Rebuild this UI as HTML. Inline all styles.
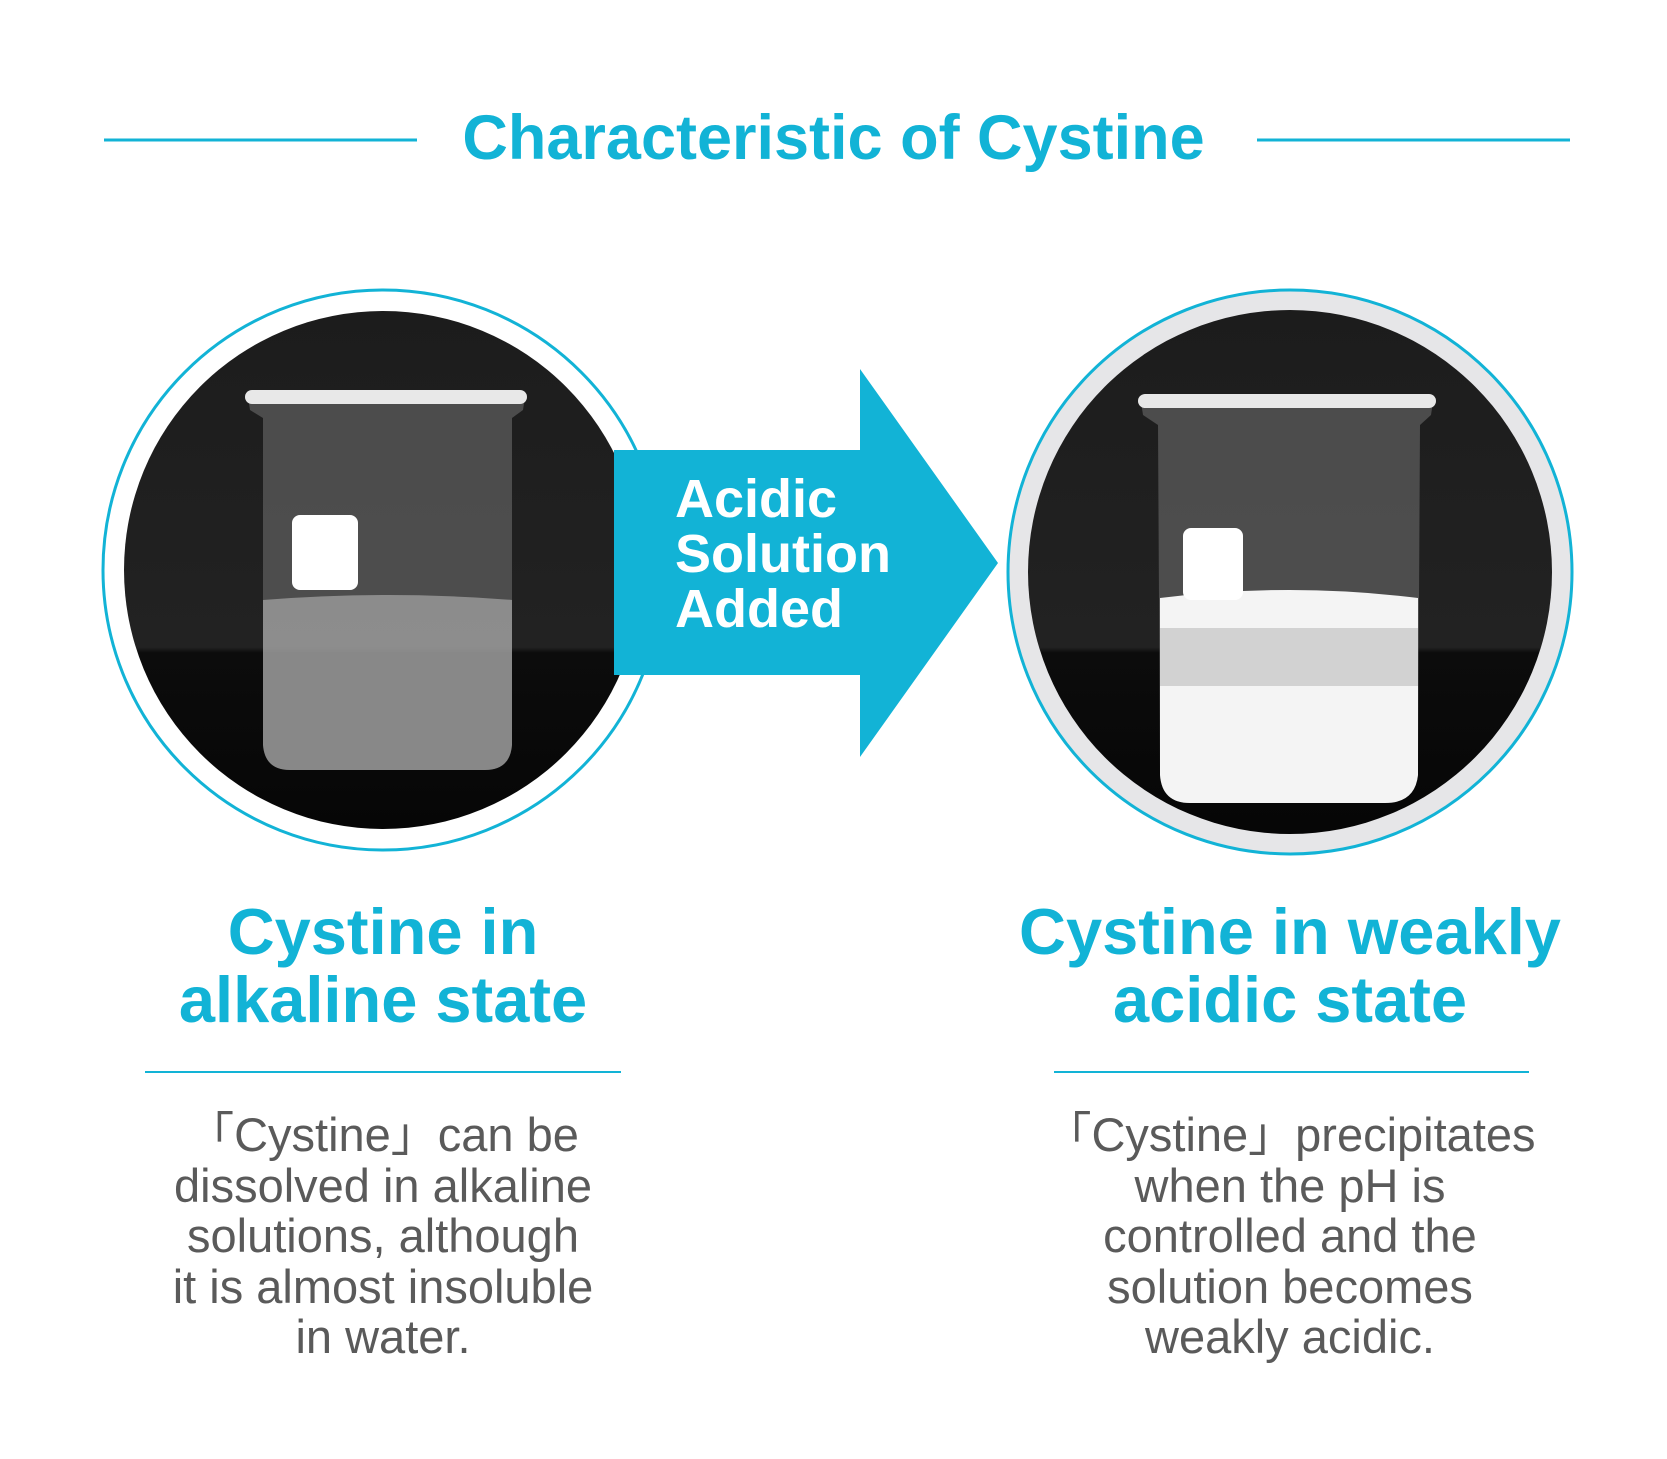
<!DOCTYPE html>
<html><head><meta charset="utf-8"><style>
html,body{margin:0;padding:0;background:#fff}
body{width:1667px;height:1459px;position:relative;overflow:hidden;font-family:"Liberation Sans",sans-serif}
.t{position:absolute;text-align:center;white-space:nowrap}
</style></head><body>
<svg width="1667" height="1459" style="position:absolute;left:0;top:0">
<defs>
<linearGradient id="bg" x1="0" y1="0" x2="0" y2="1"><stop offset="0" stop-color="#1c1c1c"/><stop offset="0.62" stop-color="#222"/><stop offset="0.63" stop-color="#0c0c0c"/><stop offset="1" stop-color="#050505"/></linearGradient>
<clipPath id="c1"><circle cx="383" cy="570" r="259"/></clipPath>
<clipPath id="c2"><circle cx="1290" cy="572" r="262"/></clipPath>
</defs>
<line x1="104" y1="140" x2="417" y2="140" stroke="#12b3d6" stroke-width="3"/>
<line x1="1257" y1="140" x2="1570" y2="140" stroke="#12b3d6" stroke-width="3"/>
<circle cx="383" cy="570" r="280" fill="#fff" stroke="#12b3d6" stroke-width="3"/>
<g clip-path="url(#c1)">
<rect x="100" y="300" width="570" height="560" fill="url(#bg)"/>
<path d="M248 397 L525 397 L523 410 L512 418 L512 745 Q510 770 485 770 L290 770 Q265 770 263 745 L263 418 L250 410 Z" fill="#7a7a7a" opacity="0.5"/>
<path d="M263 600 Q390 590 512 600 L512 745 Q510 770 485 770 L290 770 Q265 770 263 745 Z" fill="#b8b8b8" opacity="0.6"/>
<rect x="245" y="390" width="282" height="14" rx="7" fill="#e8e8e8"/>
<rect x="292" y="515" width="66" height="75" rx="8" fill="#fff"/>
</g>
<circle cx="1290" cy="572" r="282" fill="#e6e6e8" stroke="#12b3d6" stroke-width="3"/>
<g clip-path="url(#c2)">
<rect x="1000" y="300" width="580" height="560" fill="url(#bg)"/>
<path d="M1141 402 L1433 402 L1431 415 L1420 425 L1418 775 Q1415 803 1385 803 L1190 803 Q1162 803 1160 775 L1158 425 L1143 415 Z" fill="#7a7a7a" opacity="0.5"/>
<path d="M1160 598 Q1290 582 1418 598 L1418 775 Q1415 803 1385 803 L1190 803 Q1162 803 1160 775 Z" fill="#f4f4f4"/>
<rect x="1160" y="628" width="258" height="58" fill="#c9c9c9" opacity="0.8"/>
<rect x="1138" y="394" width="298" height="14" rx="7" fill="#e8e8e8"/>
<rect x="1183" y="528" width="60" height="72" rx="8" fill="#fff"/>
</g>
<polygon points="614,450 860,450 860,369 998,563 860,757 860,675 614,675" fill="#12b3d6"/>
<line x1="145" y1="1072" x2="621" y2="1072" stroke="#12b3d6" stroke-width="2"/>
<line x1="1054" y1="1072" x2="1529" y2="1072" stroke="#12b3d6" stroke-width="2"/>
</svg>
<div class="t" style="left:0;width:1667px;top:102px;font-size:63px;font-weight:bold;color:#12b3d6">Characteristic of Cystine</div>
<div class="t" style="left:675px;top:472px;text-align:left;font-size:54px;font-weight:bold;color:#fff;line-height:55px">Acidic<br>Solution<br>Added</div>
<div class="t" style="left:83px;width:600px;top:898px;font-size:65px;font-weight:bold;color:#12b3d6;line-height:68px">Cystine in<br>alkaline state</div>
<div class="t" style="left:990px;width:600px;top:898px;font-size:65px;font-weight:bold;color:#12b3d6;line-height:68px">Cystine in weakly<br>acidic state</div>
<div class="t" style="left:83px;width:600px;top:1110px;font-size:47px;color:#5a5a5a;line-height:50.5px;font-family:'Liberation Sans','Noto Sans CJK JP',sans-serif">「Cystine」can be<br>dissolved in alkaline<br>solutions, although<br>it is almost insoluble<br>in water.</div>
<div class="t" style="left:990px;width:600px;top:1110px;font-size:47px;color:#5a5a5a;line-height:50.5px;font-family:'Liberation Sans','Noto Sans CJK JP',sans-serif">「Cystine」precipitates<br>when the pH is<br>controlled and the<br>solution becomes<br>weakly acidic.</div>
</body></html>
